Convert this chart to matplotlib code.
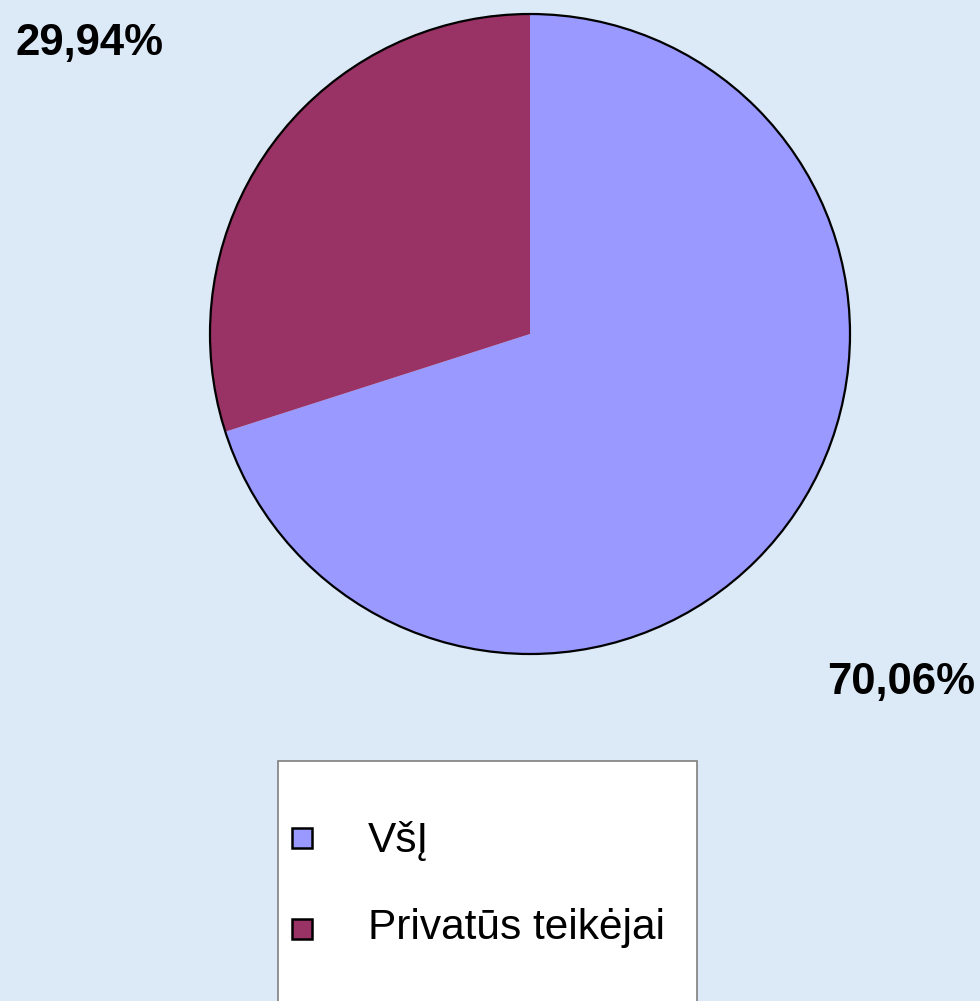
import matplotlib
matplotlib.use("Agg")
import matplotlib.pyplot as plt
from matplotlib.patches import Rectangle, Circle

categories = ["VšĮ", "Privatūs teikėjai"]
values = [70.06, 29.94]
value_labels = ["70,06%", "29,94%"]
colors = ["#9999FF", "#993366"]

W, H = 980, 1001
fig = plt.figure(figsize=(W / 100, H / 100), dpi=100)
fig.patch.set_facecolor("#dce9f6")
ax = fig.add_axes([0, 0, 1, 1])

cx, cy, r = 530, H - 334, 320
wedges, _ = ax.pie(values, colors=colors, startangle=90, counterclock=False,
                   center=(cx, cy), radius=r, frame=True,
                   wedgeprops=dict(linewidth=0))
ax.add_patch(Circle((cx, cy), r, fill=False, edgecolor="black", linewidth=1.6, zorder=5))
ax.set_xlim(0, W)
ax.set_ylim(0, H)
ax.set_aspect("equal")
ax.axis("off")

# value labels
lbl_font = dict(fontsize=31.5, fontweight="bold", family="Liberation Sans", color="black")
ax.text(975, H - 694, value_labels[0], ha="right", va="baseline", **lbl_font)
ax.text(15, H - 55, value_labels[1], ha="left", va="baseline", **lbl_font)

# legend box
ax.add_patch(Rectangle((278, -5), 419, H - 761 + 5, facecolor="white",
                       edgecolor="#7f7f7f", linewidth=1.2, zorder=6))
ys = [H - 838, H - 929]
baselines = [H - 852, H - 939]
for y, b, c, name in zip(ys, baselines, colors, categories):
    ax.add_patch(Rectangle((292, y - 10), 20, 20, facecolor=c, edgecolor="black",
                           linewidth=1.8, zorder=7))
    ax.text(368, b, name, ha="left", va="baseline", fontsize=30.5,
            family="Liberation Sans", color="black", zorder=8)

fig.savefig("out.png", dpi=100, facecolor=fig.get_facecolor())
